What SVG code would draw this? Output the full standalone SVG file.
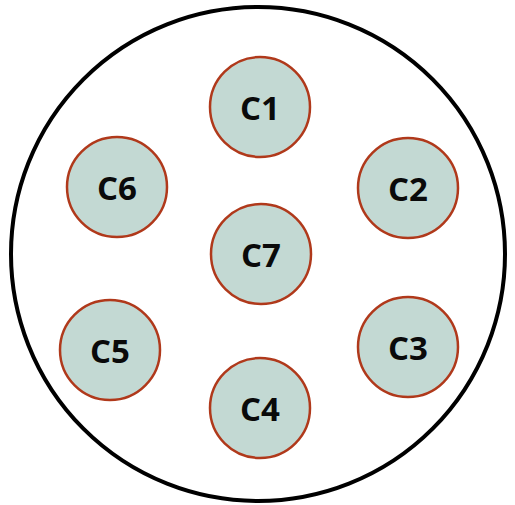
<svg xmlns="http://www.w3.org/2000/svg" width="515" height="505" viewBox="0 0 515 505">
<style>
.n{fill:#c3d9d3;stroke:#b0391b;stroke-width:2.5}
.t{font-family:"Open Sans",sans-serif;font-weight:bold;font-size:33px;fill:#0a0a0a;text-anchor:middle;dominant-baseline:central}
</style>
<rect width="515" height="505" fill="#fff"/>
<g id="outer"><circle cx="258" cy="254" r="247" fill="none" stroke="#000" stroke-width="4"/></g>
<g id="connectors"></g>
<g id="C1"><circle class="n" cx="260" cy="107" r="50"/><text class="t" x="260" y="107">C1</text></g>
<g id="C2"><circle class="n" cx="408" cy="188" r="50"/><text class="t" x="408" y="188">C2</text></g>
<g id="C3"><circle class="n" cx="408" cy="347" r="50"/><text class="t" x="408" y="347">C3</text></g>
<g id="C4"><circle class="n" cx="260" cy="408" r="50"/><text class="t" x="260" y="408">C4</text></g>
<g id="C5"><circle class="n" cx="110" cy="350" r="50"/><text class="t" x="110" y="350">C5</text></g>
<g id="C6"><circle class="n" cx="117" cy="187" r="50"/><text class="t" x="117" y="187">C6</text></g>
<g id="C7"><circle class="n" cx="261" cy="254" r="50"/><text class="t" x="261" y="254">C7</text></g>
</svg>
